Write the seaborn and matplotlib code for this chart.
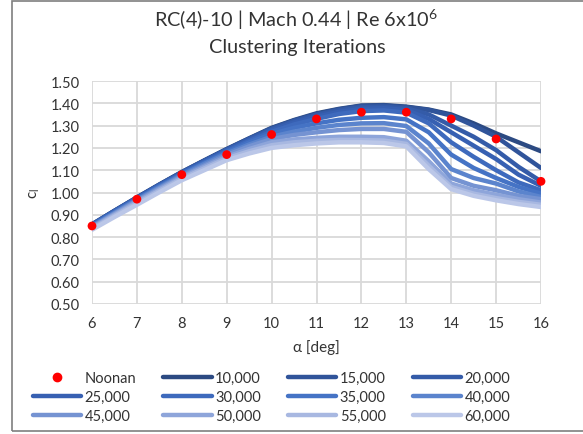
import matplotlib
matplotlib.use("Agg")
import matplotlib.pyplot as plt
import seaborn as sns
import pandas as pd
from matplotlib.lines import Line2D
from matplotlib.patches import Rectangle

# angle of attack (deg), read at half degree steps
alpha = [6, 6.5, 7, 7.5, 8, 8.5, 9, 9.5, 10, 10.5, 11,
         11.5, 12, 12.5, 13, 13.5, 14, 14.5, 15, 15.5, 16]

# Noonan experiment
noonan_alpha = [6, 7, 8, 9, 10, 11, 12, 13, 14, 15, 16]
noonan_cl = [0.85, 0.97, 1.08, 1.17, 1.26, 1.33, 1.36, 1.36, 1.33, 1.24, 1.05]

# clustering iterations
cl_10000 = [0.857, 0.918, 0.978, 1.036, 1.092, 1.144, 1.195, 1.243, 1.290, 1.325, 1.355,
            1.375, 1.390, 1.392, 1.385, 1.372, 1.350, 1.310, 1.265, 1.225, 1.185]
cl_15000 = [0.857, 0.918, 0.977, 1.035, 1.091, 1.143, 1.194, 1.242, 1.288, 1.323, 1.352,
            1.373, 1.388, 1.390, 1.383, 1.370, 1.345, 1.300, 1.250, 1.180, 1.110]
cl_20000 = [0.856, 0.917, 0.976, 1.034, 1.090, 1.142, 1.192, 1.240, 1.285, 1.320, 1.348,
            1.369, 1.383, 1.385, 1.378, 1.350, 1.300, 1.250, 1.190, 1.115, 1.050]
cl_25000 = [0.855, 0.916, 0.975, 1.033, 1.088, 1.140, 1.190, 1.237, 1.280, 1.314, 1.340,
            1.362, 1.375, 1.378, 1.370, 1.330, 1.270, 1.210, 1.150, 1.080, 1.030]
cl_30000 = [0.853, 0.914, 0.973, 1.030, 1.085, 1.136, 1.185, 1.231, 1.272, 1.305, 1.330,
            1.352, 1.365, 1.368, 1.358, 1.310, 1.225, 1.160, 1.100, 1.045, 1.010]
cl_35000 = [0.851, 0.911, 0.970, 1.027, 1.082, 1.132, 1.180, 1.224, 1.262, 1.290, 1.310,
            1.326, 1.335, 1.338, 1.328, 1.270, 1.170, 1.110, 1.065, 1.025, 0.995]
cl_40000 = [0.848, 0.908, 0.967, 1.023, 1.078, 1.128, 1.175, 1.215, 1.250, 1.273, 1.290,
            1.303, 1.310, 1.311, 1.298, 1.220, 1.105, 1.065, 1.040, 1.005, 0.980]
cl_45000 = [0.845, 0.905, 0.963, 1.019, 1.073, 1.121, 1.168, 1.207, 1.240, 1.258, 1.270,
            1.280, 1.285, 1.285, 1.272, 1.180, 1.065, 1.030, 1.010, 0.985, 0.970]
cl_50000 = [0.842, 0.901, 0.958, 1.014, 1.068, 1.115, 1.160, 1.195, 1.225, 1.238, 1.245,
            1.250, 1.250, 1.248, 1.232, 1.140, 1.040, 1.010, 0.990, 0.970, 0.955]
cl_55000 = [0.838, 0.896, 0.952, 1.008, 1.062, 1.108, 1.153, 1.185, 1.212, 1.225, 1.232,
            1.236, 1.235, 1.233, 1.218, 1.120, 1.025, 0.995, 0.975, 0.958, 0.945]
cl_60000 = [0.833, 0.890, 0.945, 1.001, 1.055, 1.100, 1.145, 1.175, 1.200, 1.212, 1.220,
            1.225, 1.225, 1.222, 1.207, 1.105, 1.015, 0.985, 0.965, 0.948, 0.935]

series_names = ["10,000", "15,000", "20,000", "25,000", "30,000", "35,000",
                "40,000", "45,000", "50,000", "55,000", "60,000"]
series_values = [cl_10000, cl_15000, cl_20000, cl_25000, cl_30000, cl_35000,
                 cl_40000, cl_45000, cl_50000, cl_55000, cl_60000]

colors = ["#2C4A82", "#30549A", "#345BA8", "#3760B2", "#3E6ABD", "#4573C5",
          "#5B84CD", "#7593D2", "#8EA5DA", "#A8B8E1", "#BBC7E8"]

df = pd.concat([pd.DataFrame({"alpha": alpha, "cl": v, "series": n})
                for n, v in zip(series_names, series_values)], ignore_index=True)
noonan = pd.DataFrame({"alpha": noonan_alpha, "cl": noonan_cl})

sns.set_style("white")
plt.rcParams["font.family"] = ["Lato", "DejaVu Sans"]
plt.rcParams["mathtext.default"] = "regular"
txt = "#333333"

fig = plt.figure(figsize=(5.83, 4.35), dpi=100)
ax = fig.add_axes([92 / 583, 1 - 305 / 435, 449 / 583, 223 / 435])

sns.lineplot(data=df, x="alpha", y="cl", hue="series", palette=colors,
             linewidth=3.2, legend=False, ax=ax, solid_capstyle="round",
             solid_joinstyle="round", zorder=3)
sns.scatterplot(data=noonan, x="alpha", y="cl", color="red", s=40,
                edgecolor="none", ax=ax, zorder=5, clip_on=False)

ax.set_xlim(6, 16)
ax.set_ylim(0.5, 1.5)
ax.set_xticks(range(6, 17))
ax.set_yticks([0.5 + 0.1 * i for i in range(11)])
ax.set_yticklabels([f"{0.5 + 0.1 * i:.2f}" for i in range(11)])
ax.grid(True, color="#D9D9D9", linewidth=1.3)
ax.set_axisbelow(True)
for s in ax.spines.values():
    s.set_visible(False)
ax.tick_params(length=0, labelsize=10.5, colors=txt, pad=9)
ax.set_xlabel("α [deg]", fontsize=11, color=txt, labelpad=6)
ax.set_ylabel("$c_l$", fontsize=11, color=txt, labelpad=6)

fig.text(296 / 583, 1 - 20 / 435, "RC(4)-10 | Mach 0.44 | Re 6x10$^6$", ha="center", va="center",
         fontsize=14.3, color=txt)
fig.text(297 / 583, 1 - 47 / 435, "Clustering Iterations", ha="center", va="center",
         fontsize=14.3, color=txt)

# legend, row-wise order like excel
handles = [Line2D([], [], marker="o", color="red", linestyle="none", markersize=6)]
handles += [Line2D([], [], color=c, linewidth=3.2) for c in colors]
labels = ["Noonan"] + series_names
order = [r * 4 + c for c in range(4) for r in range(3)]
fig.legend([handles[i] for i in order], [labels[i] for i in order], ncol=4,
           loc="center", bbox_to_anchor=(0.466, 1 - 398 / 435), frameon=False,
           fontsize=10.5, handlelength=3.3, handletextpad=0.25, columnspacing=1.85,
           labelspacing=0.35, labelcolor=txt)

# chart border
fig.patches.append(Rectangle((12 / 583, 3 / 435), 1.0, 1 - 5 / 435, transform=fig.transFigure,
                             fill=False, edgecolor="#7F7F7F", linewidth=1.2))

fig.savefig("out.png", dpi=100)
